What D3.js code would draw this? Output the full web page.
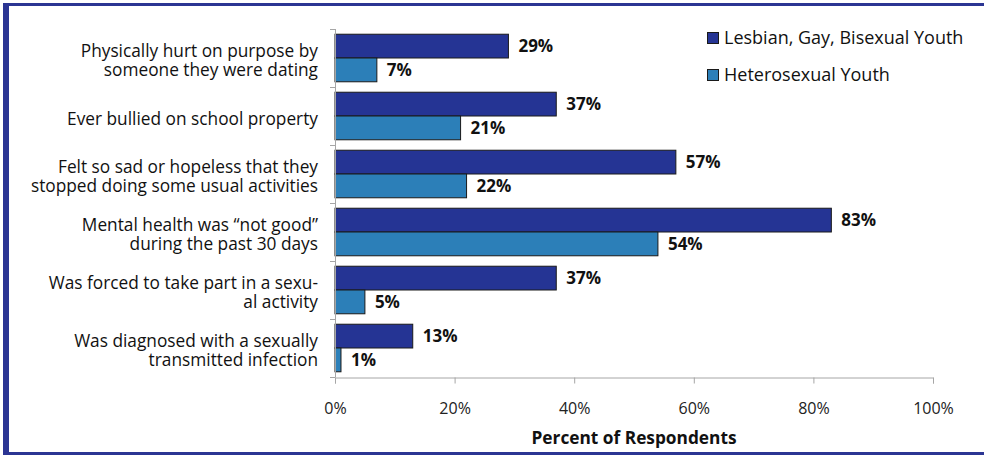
<!DOCTYPE html>
<html><head><meta charset="utf-8">
<script src="https://cdn.jsdelivr.net/npm/d3@7"></script>
<style>body{margin:0;background:#fff}svg{display:block}text{font-family:"Open Sans",Lato,sans-serif}</style>
</head><body><svg id="c" width="984" height="455"></svg>
<script>
const categories = [
  ["Physically hurt on purpose by", "someone they were dating "],
  ["Ever bullied on school property"],
  ["Felt so sad or hopeless that they", "stopped doing some usual activities"],
  ["Mental health was \u201cnot good\u201d", "during the past 30 days"],
  ["Was forced to take part in a sexu-", "al activity"],
  ["Was diagnosed with a sexually", "transmitted infection"]
];
const seriesNames = ["Lesbian, Gay, Bisexual Youth", "Heterosexual Youth"];
const lgbValues = [29, 37, 57, 83, 37, 13];
const hetValues = [7, 21, 22, 54, 5, 1];
const xTicks = [0, 20, 40, 60, 80, 100];
const colors = ["#253494", "#2c7fb8"];
const axisTitle = "Percent of Respondents";

const svg = d3.select("#c");
// frame
svg.append("rect").attr("x",3).attr("y",3).attr("width",981).attr("height",3).attr("fill","#2b3593");
svg.append("rect").attr("x",3).attr("y",3).attr("width",6).attr("height",452).attr("fill","#2b3593");
svg.append("rect").attr("x",3).attr("y",452).attr("width",981).attr("height",3).attr("fill","#2b3593");

const x = d3.scaleLinear().domain([0,100]).range([335,933]);
const idx = d3.range(categories.length);
const y = d3.scaleBand().domain(idx).range([29,377]).paddingInner(0.18).paddingOuter(0.09);
const ySub = d3.scaleBand().domain([0,1]).range([0,y.bandwidth()]);

const data = [lgbValues, hetValues];
data.forEach((vals,s)=>{
  const g = svg.append("g");
  g.selectAll("rect").data(vals).join("rect")
    .attr("x", x(0)).attr("y",(d,i)=>y(i)+ySub(s))
    .attr("width", d=>x(d)-x(0)).attr("height", ySub.bandwidth())
    .attr("fill", colors[s]).attr("stroke","#1a1a1a").attr("stroke-width",1);
  g.selectAll("text").data(vals).join("text")
    .attr("x", d=>x(d)+10).attr("y",(d,i)=>y(i)+ySub(s)+ySub.bandwidth()/2+6)
    .attr("font-weight","bold").attr("font-size",17).attr("fill","#111")
    .text(d=>d+"%");
});

// y axis line and ticks at band boundaries
const yAxisG = svg.append("g").attr("stroke","#a6a6a6").attr("stroke-width",1);
yAxisG.append("line").attr("x1",335.5).attr("x2",335.5).attr("y1",29).attr("y2",377);
d3.range(categories.length+1).forEach(i=>{
  const yy = Math.round(29 + i*(348/categories.length))+0.5;
  yAxisG.append("line").attr("x1",330).attr("x2",335.5).attr("y1",yy).attr("y2",yy);
});

// category labels (one text per line)
categories.forEach((lines,i)=>{
  const cy = y(i)+y.bandwidth()/2;
  const lh = 19.5;
  lines.forEach((ln,j)=>{
    svg.append("text").attr("text-anchor","end").attr("font-size",17.3).attr("fill","#111")
      .attr("x",318).attr("y", cy + (j-(lines.length-1)/2)*lh + 8.5).text(ln);
  });
});

// x axis
const xAxis = d3.axisBottom(x).tickValues(xTicks).tickFormat(d=>d+"%").tickSizeOuter(0).tickSize(6).tickPadding(19);
const xg = svg.append("g").attr("transform","translate(0,377.5)").call(xAxis);
xg.select(".domain").attr("stroke","#a6a6a6");
xg.selectAll(".tick line").attr("stroke","#a6a6a6");
xg.selectAll(".tick text").attr("font-size",16).attr("fill","#222").attr("font-family","'Open Sans',Lato,sans-serif");

svg.append("text").attr("x",634).attr("y",444).attr("text-anchor","middle")
  .attr("font-weight","bold").attr("font-size",17.3).attr("fill","#111").text(axisTitle);

// legend
seriesNames.forEach((n,i)=>{
  const ly = 32 + i*37;
  svg.append("rect").attr("x",707.5).attr("y",ly+0.5).attr("width",11).attr("height",11)
    .attr("fill",colors[i]).attr("stroke","#1a1a1a");
  svg.append("text").attr("x",724).attr("y",ly+12).attr("font-size",18).attr("fill","#111").text(n);
});
</script></body></html>
